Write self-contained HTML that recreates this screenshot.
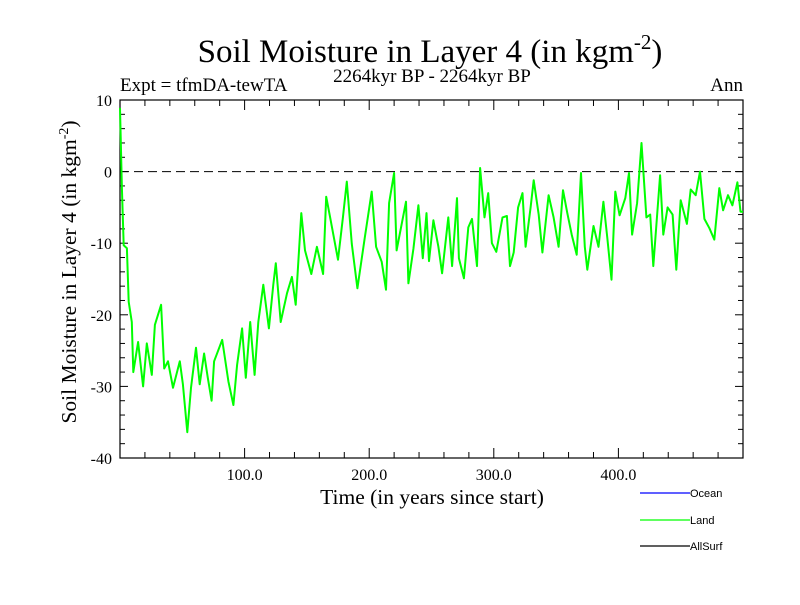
<!DOCTYPE html>
<html><head><meta charset="utf-8"><style>
body{margin:0;background:#fff}
svg text{font-family:"Liberation Serif",serif;fill:#000}
</style></head><body>
<svg id="chart" width="800" height="600" xmlns="http://www.w3.org/2000/svg">
<rect width="800" height="600" fill="#fff"/>
<text x="430" y="62" font-size="33" text-anchor="middle">Soil Moisture in Layer 4 (in kgm<tspan dy="-13" font-size="21">-2</tspan><tspan dy="13">)</tspan></text>
<text x="120" y="91" font-size="19">Expt = tfmDA-tewTA</text>
<text x="432" y="82" font-size="19" text-anchor="middle">2264kyr BP - 2264kyr BP</text>
<text x="743" y="91" font-size="19" text-anchor="end">Ann</text>
<text x="432" y="504" font-size="21.5" text-anchor="middle">Time (in years since start)</text>
<text transform="translate(76,272) rotate(-90)" font-size="21.5" text-anchor="middle">Soil Moisture in Layer 4 (in kgm<tspan dy="-8" font-size="14">-2</tspan><tspan dy="8">)</tspan></text>
<g id="axes"></g>
<g id="series"></g>
<g>
<line x1="640" y1="493" x2="690" y2="493" stroke="#0000ff" stroke-width="1.2"/>
<text x="690" y="497" font-size="11" style="font-family:'Liberation Sans',sans-serif">Ocean</text>
<line x1="640" y1="520" x2="690" y2="520" stroke="#00ff00" stroke-width="1.2"/>
<text x="690" y="524" font-size="11" style="font-family:'Liberation Sans',sans-serif">Land</text>
<line x1="640" y1="546" x2="690" y2="546" stroke="#000" stroke-width="1.2"/>
<text x="690" y="550" font-size="11" style="font-family:'Liberation Sans',sans-serif">AllSurf</text>
</g>
</svg>
<script>
const years = [0,1.5,3,5.5,7,9.5,10.7,14.5,18.5,21.5,25.5,28,33,35.5,38.5,42.5,48,50.5,54,57,61,64,67.5,70.5,73.5,75.5,82,87,91,94,98,101,104.5,108,111,115,119.5,123,125,129,134,138,141,145.5,148.5,153.5,158,163,165.5,168.5,175,179,182,186,190.5,196.5,202,205.5,210,213.5,216,220,222,229.5,231.5,235.5,239.5,243,246,248,251.5,255.5,258.5,263.5,266.5,270.5,272,276,279.5,282.5,286.5,289,292.5,295.5,298.5,302,307,310.5,313,316,319.5,323,325.5,329.5,332,336,339,344,348,352,355.5,359,362.5,366.5,370,373,375,380,384,388,391,394.5,397.5,401,405.5,408.5,411,415,418.5,422.5,425.5,428,433.5,436,439.5,443.5,446.5,450,455,458,462,465.5,469,473,477,481,484,488,491.5,495.5,498,500];
const landValues = [8.9,-2.3,-10.3,-10.7,-18.2,-21,-28,-23.8,-30,-24,-28.4,-21.4,-18.6,-27.5,-26.5,-30.2,-26.5,-29.7,-36.4,-30.2,-24.6,-29.7,-25.4,-28.8,-32,-26.5,-23.5,-29.3,-32.6,-27,-21.9,-28.8,-21,-28.4,-21,-15.8,-21.9,-15.8,-12.8,-21,-17,-14.7,-18.6,-5.8,-11,-14.3,-10.5,-14.3,-3.5,-6.3,-12.3,-6.3,-1.4,-10.1,-16.3,-9.2,-2.8,-10.5,-12.6,-16.5,-4.4,-0.2,-11,-4.2,-15.6,-10.8,-4.7,-12.1,-5.8,-12.5,-6.8,-10.5,-14.2,-6.4,-13.2,-3.7,-12.1,-14.9,-7.8,-6.6,-13.2,0.5,-6.4,-3,-10,-11.2,-6.4,-6.2,-13.2,-11.3,-5,-3,-10.5,-5,-1.2,-6,-11.3,-3.3,-6.4,-10.5,-2.6,-5.8,-8.8,-11.6,-0.2,-10.5,-13.7,-7.6,-10.5,-4.2,-9.1,-15.1,-2.8,-6.1,-3.7,-0.2,-8.8,-4.4,4,-6.4,-6,-13.2,-0.5,-8.8,-5,-6,-13.7,-4,-7.3,-2.5,-3.3,0,-6.6,-7.9,-9.5,-2.3,-5.4,-3.3,-4.7,-1.5,-5.6,-5.6];
const yTicks = [10,0,-10,-20,-30,-40];
const yTickLabels = ["10","0","-10","-20","-30","-40"];
const xTicks = [100,200,300,400];
const xTickLabels = ["100.0","200.0","300.0","400.0"];
const X0=120,X1=743,Y0=100,Y1=458;
const xMin=0,xMax=500,yMin=-40,yMax=10;
const sx=v=>X0+(v-xMin)/(xMax-xMin)*(X1-X0);
const sy=v=>Y1-(v-yMin)/(yMax-yMin)*(Y1-Y0);
const NS="http://www.w3.org/2000/svg";
const axes=document.getElementById('axes');
function mk(tag,attrs,parent){const e=document.createElementNS(NS,tag);for(const k in attrs)e.setAttribute(k,attrs[k]);parent.appendChild(e);return e;}
const frame=mk('rect',{x:X0,y:Y0,width:X1-X0,height:Y1-Y0,fill:'none',stroke:'#000','stroke-width':1.2},axes);


for(let v=-40;v<=10;v+=2){
  const len=(v%10===0)?8:5;
  const t1=mk('line',{x1:X0,x2:X0+len,y1:sy(v),y2:sy(v),stroke:'#000'},axes);
  
  
  const t2=mk('line',{x1:X1,x2:X1-len,y1:sy(v),y2:sy(v),stroke:'#000'},axes);
  
  
}
for(let v=20;v<500;v+=20){
  const len=(v%100===0)?10:6;
  const t1=mk('line',{x1:sx(v),x2:sx(v),y1:Y1,y2:Y1-len,stroke:'#000'},axes);
  
  
  const t2=mk('line',{x1:sx(v),x2:sx(v),y1:Y0,y2:Y0+len,stroke:'#000'},axes);
  
  
}
yTicks.forEach((v,i)=>{
  const t=mk('text',{x:112,y:sy(v)+6,'font-size':16,'text-anchor':'end'},axes);
  t.textContent=yTickLabels[i];
  
  
});
xTicks.forEach((v,i)=>{
  const t=mk('text',{x:sx(v),y:480,'font-size':16,'text-anchor':'middle'},axes);
  t.textContent=xTickLabels[i];
  
  
});
const zl=mk('line',{x1:X0,x2:X1,y1:sy(0),y2:sy(0),stroke:'#000','stroke-dasharray':'9,5','stroke-width':1},axes);


const ser=document.getElementById('series');
const d=years.map((y,i)=>(i?'L':'M')+sx(y).toFixed(1)+','+sy(landValues[i]).toFixed(1)).join(' ');
const p=mk('path',{d:d,fill:'none',stroke:'#00ff00','stroke-width':2,'stroke-linejoin':'round'},ser);


</script>
</body></html>
